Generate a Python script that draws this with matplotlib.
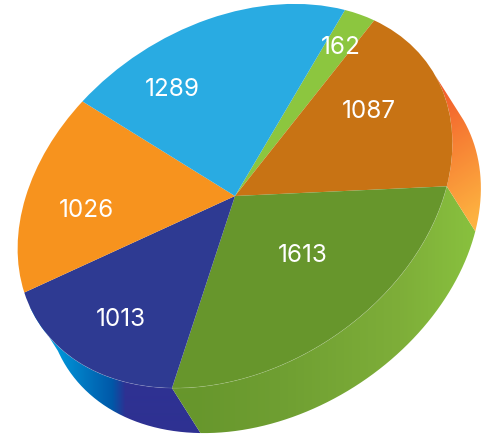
import numpy as np
import matplotlib
matplotlib.use("Agg")
import matplotlib.pyplot as plt
from matplotlib.patches import PathPatch
from matplotlib.path import Path
from matplotlib.transforms import Affine2D

# Data (clockwise from the top)
values = [162, 1087, 1613, 1013, 1026, 1289]
labels = ["162", "1087", "1613", "1013", "1026", "1289"]
colors = ["#8CC63F", "#C87314", "#67962C", "#2E3A92", "#F7931E", "#29ABE2"]

# Layout / projection of the tilted pie, in pixels (y down)
W, H = 492, 436
CENTER = np.array([235.0, 196.0])
VEC_A = np.array([110.0, -186.0])   # unit-circle y axis (start of first slice)
VEC_B = np.array([187.5, 48.0])     # unit-circle x axis
DEPTH = np.array([28.5, 45.0])
LABEL_POS = [(341, 46), (369, 110), (303, 254), (121, 318), (86, 209), (172, 88)]

fig = plt.figure(figsize=(W / 100, H / 100), dpi=100)
ax = fig.add_axes([0, 0, 1, 1])

def rim(phi_deg):
    p = np.radians(np.asarray(phi_deg, float))
    return CENTER + np.outer(np.cos(p), VEC_A) + np.outer(np.sin(p), VEC_B)

def side_path(p0, p1):
    ph = np.linspace(p0, p1, 200)
    top = rim(ph)
    return Path(np.vstack([top, (top + DEPTH)[::-1], top[:1]]))

def gradient(stops_pos, stops_col):
    col = np.array([matplotlib.colors.to_rgb(c) for c in stops_col])
    t = np.arange(W)
    row = np.stack([np.interp(t, stops_pos, col[:, i]) for i in range(3)], axis=-1)
    return np.repeat(row[None, :, :], H, axis=0)

def draw_side(path, img):
    im = ax.imshow(img, extent=(0, W, H, 0), origin="upper", zorder=1,
                   interpolation="bilinear", aspect="auto")
    patch = PathPatch(path, transform=ax.transData, fc="none", ec="none")
    ax.add_patch(patch)
    im.set_clip_path(patch)

bounds = np.cumsum(values) / np.sum(values) * 360.0
tangent = np.degrees(np.arctan2(VEC_B[0] * DEPTH[1] - VEC_B[1] * DEPTH[0],
                                VEC_A[0] * DEPTH[1] - VEC_A[1] * DEPTH[0]))

# Side walls
blue_img = gradient([45, 112, 125, 200],
                    ["#00A2E3", "#0058A8", "#2E3192", "#2E3192"])
draw_side(side_path(tangent + 180.0 + 6, bounds[2]), blue_img)

green_img = gradient([190, 280, 400, 470],
                     ["#67962C", "#6F9F32", "#7EAE39", "#88C03E"])
draw_side(side_path(bounds[1], bounds[2]), green_img)

yy, xx = np.mgrid[0:H, 0:W]
s = np.clip(((xx - 435) * 0.55 + (yy - 85) * 0.83) / 130.0, 0, 1)[..., None]
c0, c1 = np.array(matplotlib.colors.to_rgb("#F2582A")), np.array(matplotlib.colors.to_rgb("#FDB140"))
draw_side(side_path(tangent + 2, bounds[1]), c0 * (1 - s) + c1 * s)

# Top face: an ordinary pie mapped through the tilt
wedges, _ = ax.pie(values, colors=colors, startangle=90, counterclock=False,
                   radius=1.0, center=(0, 0), frame=True)
tilt = Affine2D.from_values(VEC_B[0], VEC_B[1], VEC_A[0], VEC_A[1], CENTER[0], CENTER[1])
for w in wedges:
    w.set_transform(tilt + ax.transData)
    w.set_linewidth(0)
    w.set_zorder(2)

# Faint highlight along the front rim
ph = np.linspace(bounds[1], bounds[3] - 15, 200)
r = rim(ph)
ax.plot(r[:, 0], r[:, 1], color="white", lw=0.5, alpha=0.18, zorder=3)

for lab, pos in zip(labels, LABEL_POS):
    ax.text(pos[0], pos[1] + 1, lab, color="white", fontsize=17.5, family="Inter",
            fontweight="normal", ha="center", va="center", zorder=4)

ax.set_aspect("auto")
ax.set_xlim(0, W)
ax.set_ylim(H, 0)
ax.axis("off")
fig.savefig("out.png", dpi=100, facecolor="white")
